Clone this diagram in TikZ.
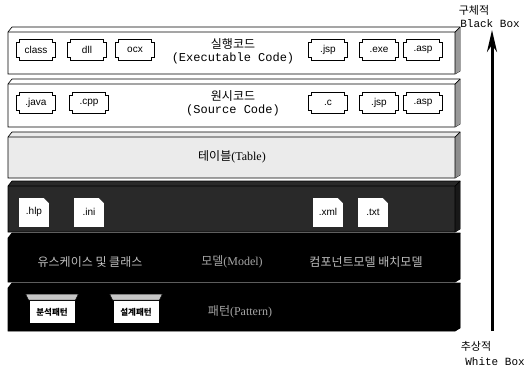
\documentclass[tikz,border=0pt]{standalone}
\usepackage{fontspec}
\setmainfont{Liberation Serif}
\setsansfont{Liberation Sans}
\setmonofont{Liberation Mono}
\newfontfamily\kr{Noto Sans CJK KR}
\usetikzlibrary{arrows.meta, calc}

\colorlet{paper}{white}
\colorlet{tablegray}{gray!16}
\colorlet{darkslab}{black!84}
\colorlet{inkslab}{black}

% slab: top y, bottom y, fill colour
\newcommand{\slab}[3]{%
  \filldraw[fill=#3, line width=0.7pt] (8,#1) -- (12,#1-5) -- (460,#1-5)
    -- (460,#2-3) -- (455,#2) -- (8,#2) -- cycle;
  \fill[#3!60!black] (455,#1) -- (460,#1-5) -- (460,#2-3) -- (455,#2) -- cycle;
  \draw[line width=0.7pt] (8,#1) -- (455,#1) -- (460,#1-5) (455,#1) -- (455,#2);}

% notched outline round a file tag
\newcommand{\notchtag}[1]{%
  \draw[line width=0.6pt] ($(#1.north west)+(3,0)$) -- ($(#1.north east)+(-3,0)$)
    -- ++(0,3) -- ++(3,0) -- ($(#1.south east)+(0,-3)$) -- ++(-3,0)
    -- ++(0,3) -- ($(#1.south west)+(3,0)$) -- ++(0,-3) -- ++(-3,0)
    -- ($(#1.north west)+(0,3)$) -- ++(3,0) -- cycle;}

% folded corner of a document
\newcommand{\dogear}[1]{%
  \fill[darkslab] ($(#1.north east)+(-6,0)$) -- (#1.north east) -- ($(#1.north east)+(0,6)$) -- cycle;}

% bevel above a pattern box
\newcommand{\bevel}[1]{%
  \filldraw[fill=gray!45, line width=0.5pt] ($(#1.north west)+(-3,-6)$) -- ($(#1.north east)+(3,-6)$)
    -- (#1.north east) -- (#1.north west) -- cycle;}

\begin{document}
\begin{tikzpicture}[x=1pt, y=-1pt, >=Stealth,
    filetag/.style={inner sep=0pt, minimum width=39, minimum height=21,
      font=\sffamily\fontsize{10}{10}\selectfont},
    doc/.style={fill=paper, inner sep=0pt, minimum width=30, minimum height=29,
      font=\sffamily\fontsize{10}{10}\selectfont},
    patbox/.style={fill=paper, draw, line width=0.8pt, inner sep=0pt,
      minimum width=46, minimum height=23, font=\kr\bfseries\fontsize{8.5}{9}\selectfont},
    layertext/.style={font=\kr\fontsize{12}{14}\selectfont, align=center},
    side/.style={font=\kr\fontsize{11}{12}\selectfont, align=center}]
  \useasboundingbox (0,0) rectangle (526,374);

  % --- executable code ---
  \slab{32}{74}{paper}
  \node[filetag] (class) at (36,50) {class};
  \node[filetag] (dll) at (87,50) {dll};
  \node[filetag] (ocx) at (135,50) {ocx};
  \node[filetag] (jspA) at (328,50) {.jsp};
  \node[filetag] (exe) at (379,50) {.exe};
  \node[filetag] (aspA) at (423,50) {.asp};
  \foreach \t in {class, dll, ocx, jspA, exe, aspA} {\notchtag{\t}}
  \node[layertext] (exec) at (233,51) {실행코드\\[-1pt]{\ttfamily (Executable Code)}};

  % --- source code ---
  \slab{84}{127}{paper}
  \node[filetag] (java) at (36,103) {.java};
  \node[filetag] (cpp) at (89,103) {.cpp};
  \node[filetag] (cfile) at (328,103) {.c};
  \node[filetag] (jspB) at (379,103) {.jsp};
  \node[filetag] (aspB) at (423,103) {.asp};
  \foreach \t in {java, cpp, cfile, jspB, aspB} {\notchtag{\t}}
  \node[layertext] (src) at (233,103) {원시코드\\[-1pt]{\ttfamily (Source Code)}};

  % --- table ---
  \slab{137}{178}{tablegray}
  \node[layertext] (table) at (232,157) {테이블{\fontspec{Liberation Serif}(Table)}};

  % --- documents ---
  \slab{186}{232}{darkslab}
  \node[doc] (hlp) at (34,212) {.hlp};
  \node[doc] (ini) at (89,212) {.ini};
  \node[doc] (xml) at (328,212) {.xml};
  \node[doc] (txt) at (373,212) {.txt};
  \foreach \t in {hlp, ini, xml, txt} {\dogear{\t}}

  % --- model ---
  \slab{238}{282}{inkslab}
  \node[layertext, text=gray!70] (model) at (232,262) {모델{\fontspec{Liberation Serif}(Model)}};
  \node[layertext, text=gray!50] (anamodel) at (90,262) {유스케이스 및 클래스};
  \node[layertext, text=gray!50] (desmodel) at (366,262) {컴포넌트모델 배치모델};

  % --- pattern ---
  \slab{288}{331}{inkslab}
  \node[patbox] (anapat) at (52,312) {분석패턴};
  \node[patbox] (despat) at (136,312) {설계패턴};
  \bevel{anapat}
  \bevel{despat}
  \node[layertext, text=gray!70] (pattern) at (240,312) {패턴{\fontspec{Liberation Serif}(Pattern)}};

  % --- concrete / abstract ---
  \coordinate (low) at (492,331);
  \coordinate (high) at (492,30);
  \draw[-{Stealth[length=22pt, width=10pt]}, line width=3pt] (low) -- (high);
  \node[side] (concrete) at (474,10) {구체적};
  \node[side, font=\ttfamily\fontsize{11}{12}\selectfont] (black) at (490,24) {Black Box};
  \node[side] (abstract) at (476,346) {추상적};
  \node[side, font=\ttfamily\fontsize{11}{12}\selectfont] (white) at (495,362) {White Box};
\end{tikzpicture}
\end{document}
